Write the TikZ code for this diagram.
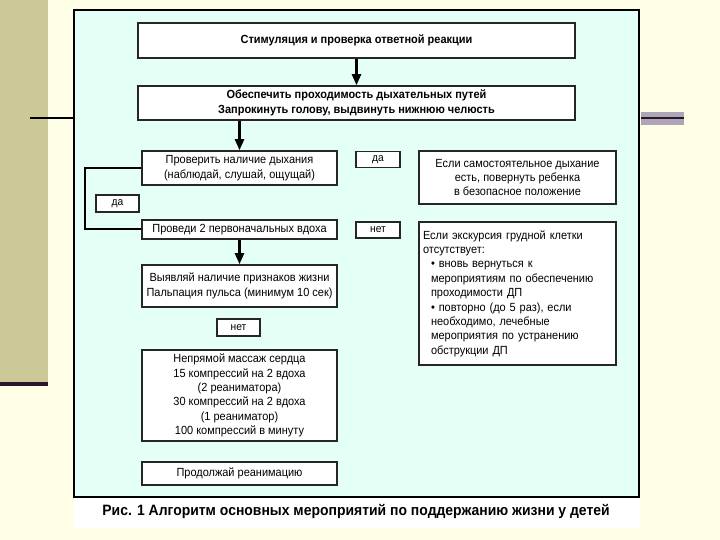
\documentclass[tikz,border=0pt]{standalone}
\usepackage{fontspec}
\setmainfont[FakeStretch=0.93]{Liberation Sans}
\usetikzlibrary{arrows.meta}
\definecolor{olivestrip}{RGB}{204,200,152}
\definecolor{creambg}{RGB}{255,255,232}
\definecolor{mintbg}{RGB}{228,255,245}
\definecolor{greybar}{RGB}{172,166,182}
\definecolor{darkline}{RGB}{45,20,40}
\begin{document}
\begin{tikzpicture}[x=1pt,y=-1pt,
  box/.style={draw=black!85, line width=1.6pt, fill=white, inner sep=0pt, align=center,
    font=\fontsize{11.8}{14.4}\selectfont},
  tag/.style={draw=black!85, line width=1.6pt, fill=white, inner sep=0pt,
    minimum width=44pt, minimum height=16pt, font=\fontsize{11}{12}\selectfont},
  arr/.style={line width=2.4pt, -{Triangle[width=9pt,length=11pt]}},
  loopline/.style={line width=2pt}]
\useasboundingbox (0,0) rectangle (720,540);
% slide background
\fill[creambg] (0,0) rectangle (720,540);
\fill[olivestrip] (0,0) rectangle (48,382);
\fill[darkline] (0,382) rectangle (48,386);
\draw[line width=2pt, black] (30,118) -- (74,118);
\fill[greybar] (641,112) rectangle (684,125);
\draw[line width=2pt, darkline] (641,118) -- (684,118);
% figure frame
\fill[white] (74,497) rectangle (640,528);
\draw[line width=2pt, fill=mintbg] (74,10) rectangle (639,497);
% boxes
\node[box, minimum width=437pt, minimum height=35pt, font=\fontsize{11.8}{14.4}\selectfont\bfseries] (b1) at (356.5,40.5)
  {Стимуляция и проверка ответной реакции};
\node[box, minimum width=437pt, minimum height=34pt, font=\fontsize{11.8}{14.4}\selectfont\bfseries] (b3) at (356.5,103)
  {Обеспечить проходимость дыхательных путей\\Запрокинуть голову, выдвинуть нижнюю челюсть};
\node[box, minimum width=195pt, minimum height=34pt] (b5) at (239.5,168)
  {Проверить наличие дыхания\\(наблюдай, слушай, ощущай)};
\node[tag] (da1) at (378,159.5) {да};
\node[box, minimum width=197pt, minimum height=53pt] (b7) at (517.5,177.5)
  {Если самостоятельное дыхание\\есть, повернуть ребенка\\в безопасное положение};
\node[tag, minimum width=43pt, minimum height=17pt] (da2) at (117.5,203.5) {да};
\node[box, minimum width=195pt, minimum height=19pt] (b9) at (239.5,229.5)
  {Проведи 2 первоначальных вдоха};
\node[tag] (net1) at (378,230) {нет};
\node[box, minimum width=197pt, minimum height=143pt, text width=189pt, align=left] (b11) at (517.5,293.5)
  {Если экскурсия грудной клетки\\отсутствует:\\
   \hspace*{8pt}• вновь вернуться к\\
   \hspace*{8pt}мероприятиям по обеспечению\\
   \hspace*{8pt}проходимости ДП\\
   \hspace*{8pt}• повторно (до 5 раз), если\\
   \hspace*{8pt}необходимо, лечебные\\
   \hspace*{8pt}мероприятия по устранению\\
   \hspace*{8pt}обструкции ДП};
\node[box, minimum width=195pt, minimum height=42pt] (b13) at (239.5,286)
  {Выявляй наличие признаков жизни\\Пальпация пульса (минимум 10 сек)};
\node[tag, minimum width=43pt, minimum height=17pt] (net2) at (238.5,327.5) {нет};
\node[box, minimum width=195pt, minimum height=91pt] (b15) at (239.5,395.5)
  {Непрямой массаж сердца\\15 компрессий на 2 вдоха\\(2 реаниматора)\\30 компрессий на 2 вдоха\\(1 реаниматор)\\100 компрессий в минуту};
\node[box, minimum width=195pt, minimum height=23pt] (b16) at (239.5,473.5)
  {Продолжай реанимацию};
% connectors
\draw[arr] (b1.south) -- (b3.north);
\draw[arr] (b5.north |- b3.south) -- (b5.north);
\draw[arr] (b9.south) -- (b13.north);
\draw[loopline] (b5.west) -- ++(-56,0) |- (b9.west);
% caption
\node[font=\fontsize{15}{17}\selectfont\bfseries] (cap) at (356,511)
  {Рис. 1 Алгоритм основных мероприятий по поддержанию жизни у детей};
\end{tikzpicture}
\end{document}
